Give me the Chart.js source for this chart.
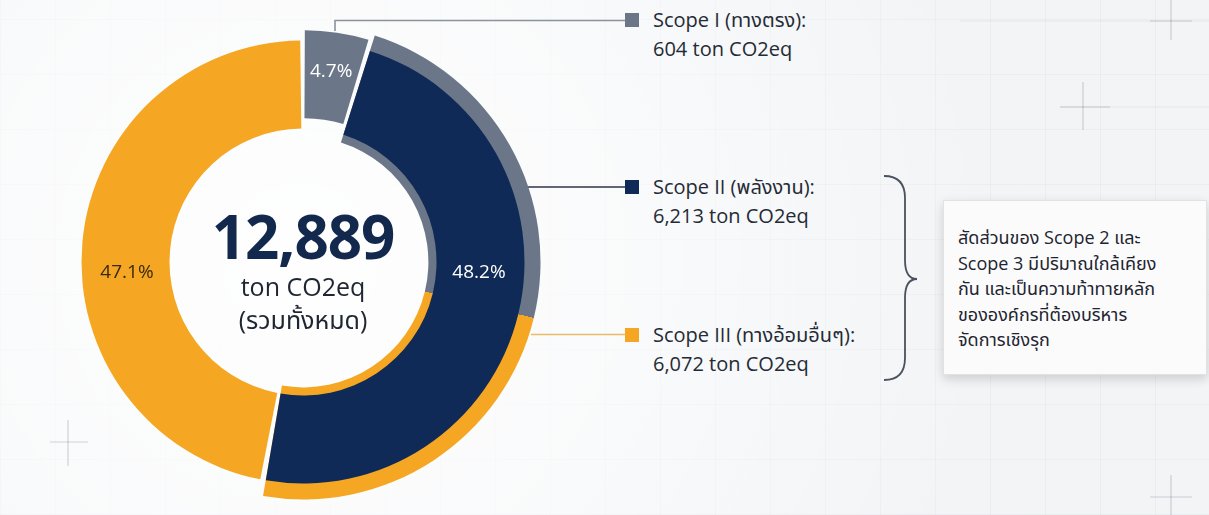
<!DOCTYPE html>
<html lang="th">
<head>
<meta charset="utf-8">
<title>Scope emissions</title>
<script src="https://cdn.jsdelivr.net/npm/chart.js@4.4.1/dist/chart.umd.min.js"></script>
<style>
    html, body {
        margin: 0;
        padding: 0;
    }
    body {
        width: 1209px;
        height: 515px;
        position: relative;
        overflow: hidden;
        font-family: "Open Sans", "Noto Sans", "Noto Sans Thai", sans-serif;
        color: #1f2631;
        background:
            radial-gradient(circle at 300px 260px, rgba(255,255,255,0.95) 0, rgba(255,255,255,0.6) 320px, rgba(255,255,255,0) 700px),
            repeating-linear-gradient(90deg, rgba(40,50,70,0.035) 0 1px, transparent 1px 55px),
            repeating-linear-gradient(0deg, rgba(40,50,70,0.035) 0 1px, transparent 1px 55px),
            #f2f4f6;
    }
    .chart-box {
        position: absolute;
        left: 53px;
        top: 12px;
        width: 500px;
        height: 500px;
    }
    .chart-box canvas {
        position: absolute;
        left: 0;
        top: 0;
    }
    .total {
        position: absolute;
        left: 153px;
        width: 300px;
        text-align: center;
    }
    #totalValue {
        top: 198px;
        font-size: 60px;
        font-weight: 700;
        line-height: 76px;
        color: #13284d;
        letter-spacing: -1px;
    }
    #totalUnit {
        top: 269px;
        font-size: 25px;
        line-height: 34px;
    }
    #totalNote {
        top: 302px;
        font-size: 25px;
        line-height: 34px;
    }
    .overlay {
        position: absolute;
        left: 0;
        top: 0;
    }
    .legend-item {
        position: absolute;
        left: 625px;
        font-size: 20px;
        line-height: 29px;
        color: #252b35;
    }
    .legend-item .swatch {
        position: absolute;
        left: 0;
        top: 8px;
        width: 14px;
        height: 14px;
    }
    .legend-item .text {
        margin-left: 28px;
        white-space: nowrap;
    }
    .note {
        position: absolute;
        left: 943px;
        top: 200px;
        width: 234px;
        height: 149px;
        padding: 24px 14px 0 14px;
        background: #fbfbfc;
        border: 1px solid #dfe2e6;
        box-shadow: 0 4px 10px rgba(0,0,0,0.16);
        font-size: 18px;
        line-height: 25.5px;
        color: #1e2430;
        white-space: nowrap;
    }
</style>
</head>
<body>

<svg class="overlay" width="1209" height="515">
    <!-- corner crosses of the backdrop -->
    <g stroke="rgba(60,70,85,0.22)" stroke-width="1.2">
        <line x1="1150" y1="21" x2="1192" y2="21" />
        <line x1="1171" y1="0" x2="1171" y2="40" />
        <line x1="1060" y1="107" x2="1110" y2="107" />
        <line x1="1083" y1="82" x2="1083" y2="130" />
        <line x1="1150" y1="497" x2="1192" y2="497" />
        <line x1="1171" y1="475" x2="1171" y2="515" />
        <line x1="50" y1="442" x2="88" y2="442" />
        <line x1="68" y1="420" x2="68" y2="466" />
    </g>
    <g stroke="rgba(60,70,85,0.07)" stroke-width="1">
        <line x1="960" y1="21" x2="1209" y2="21" />
        <line x1="1060" y1="107" x2="1209" y2="107" />
    </g>
    <!-- leader lines to the legend -->
    <polyline points="335,31 335,20.5 625,20.5" fill="none" stroke="#8a929d" stroke-width="1.6" />
    <line x1="526" y1="187" x2="625" y2="187" stroke="#2c3646" stroke-width="1.6" />
    <line x1="531" y1="334.5" x2="625" y2="334.5" stroke="#e9bb67" stroke-width="1.6" />
    <!-- brace grouping Scope II and III -->
    <path d="M884,176 Q905,176 905,198 L905,260 Q905,279 917,279 Q905,279 905,298 L905,358 Q905,380 884,380"
          fill="none" stroke="#4a5260" stroke-width="1.8" />
</svg>

<div class="chart-box">
    <canvas id="rimChart" width="500" height="500"></canvas>
    <canvas id="mainChart" width="500" height="500"></canvas>
</div>

<div class="total" id="totalValue"></div>
<div class="total" id="totalUnit"></div>
<div class="total" id="totalNote"></div>

<div id="legend"></div>

<div class="note">สัดส่วนของ Scope 2 และ<br>Scope 3 มีปริมาณใกล้เคียง<br>กัน และเป็นความท้าทายหลัก<br>ขององค์กรที่ต้องบริหาร<br>จัดการเชิงรุก</div>

<script>
// emissions by scope, ton CO2eq
var scopeNames = ["Scope I (ทางตรง)", "Scope II (พลังงาน)", "Scope III (ทางอ้อมอื่นๆ)"];
var scopeValues = [604, 6213, 6072];
var unitText = "ton CO2eq";
var totalNoteText = "(รวมทั้งหมด)";

var scopeColors = ["#6b7789", "#0f2a57", "#f5a623"];
var labelColors = ["#ffffff", "#ffffff", "#3b2a10"];
var legendTops = [5, 172, 320];

var total = scopeValues.reduce(function (a, b) { return a + b; }, 0);

function fmt(n) {
    return n.toLocaleString("en-US");
}

// centre text
document.getElementById("totalValue").textContent = fmt(total);
document.getElementById("totalUnit").textContent = unitText;
document.getElementById("totalNote").textContent = totalNoteText;

// legend on the right
var legend = document.getElementById("legend");
scopeNames.forEach(function (name, i) {
    var item = document.createElement("div");
    item.className = "legend-item";
    item.style.top = legendTops[i] + "px";
    item.innerHTML = '<div class="swatch" style="background:' + scopeColors[i] + '"></div>' +
        '<div class="text">' + name + ':<br>' + fmt(scopeValues[i]) + ' ' + unitText + '</div>';
    legend.appendChild(item);
});

// rim behind Scope II: grey on its first half, orange on the second
function rimColor(ctx) {
    if (ctx.dataIndex !== 1) return "rgba(0,0,0,0)";
    var chart = ctx.chart;
    var area = chart.chartArea;
    if (!area) return scopeColors[0];
    var cx = (area.left + area.right) / 2;
    var cy = (area.top + area.bottom) / 2;
    var split = (scopeValues[0] + scopeValues[1] / 2) / total;
    var g = chart.ctx.createConicGradient(-Math.PI / 2, cx, cy);
    g.addColorStop(0, scopeColors[0]);
    g.addColorStop(split, scopeColors[0]);
    g.addColorStop(split, scopeColors[2]);
    g.addColorStop(1, scopeColors[2]);
    return g;
}

// percentage labels on the ring
const percentLabels = {
    id: "percentLabels",
    afterDatasetsDraw(chart) {
        const ctx = chart.ctx;
        const meta = chart.getDatasetMeta(0);
        ctx.save();
        ctx.font = "500 19px 'Open Sans', 'Noto Sans', sans-serif";
        ctx.textAlign = "center";
        ctx.textBaseline = "middle";
        meta.data.forEach(function (arc, i) {
            const p = arc.getProps(["x", "y", "startAngle", "endAngle", "innerRadius", "outerRadius"], true);
            const mid = (p.startAngle + p.endAngle) / 2;
            const off = (arc.options.offset || 0) / 4;
            let angle = mid;
            let dy = 0;
            // wide slices: keep the label on the horizontal line
            [0, Math.PI].forEach(function (h) {
                if (p.startAngle < h && p.endAngle > h) {
                    angle = h;
                    dy = 11;
                }
            });
            const r = (p.innerRadius + p.outerRadius) / 2 + off * 1.7;
            const x = p.x + Math.cos(angle) * r + Math.cos(mid) * off;
            const y = p.y + Math.sin(angle) * r + Math.sin(mid) * off + dy;
            const pct = (scopeValues[i] / total * 100).toFixed(1) + "%";
            ctx.fillStyle = labelColors[i];
            ctx.fillText(pct, x, y);
        });
        ctx.restore();
    }
};

var baseOptions = {
    responsive: false,
    animation: false,
    events: [],
    layout: { padding: 0 },
    plugins: {
        legend: { display: false },
        tooltip: { enabled: false }
    }
};

new Chart("rimChart", {
    type: "doughnut",
    data: {
        labels: scopeNames,
        datasets: [{
            data: scopeValues,
            backgroundColor: rimColor,
            borderWidth: 0
        }]
    },
    options: Object.assign({}, baseOptions, {
        radius: 236,
        cutout: "52.5%",
        spacing: 3
    })
});

new Chart("mainChart", {
    type: "doughnut",
    data: {
        labels: scopeNames,
        datasets: [{
            data: scopeValues,
            backgroundColor: scopeColors,
            borderWidth: 0,
            offset: [24, 0, 0]
        }]
    },
    options: Object.assign({}, baseOptions, {
        radius: 220,
        cutout: "60%",
        spacing: 3
    }),
    plugins: [percentLabels]
});
</script>
</body>
</html>
